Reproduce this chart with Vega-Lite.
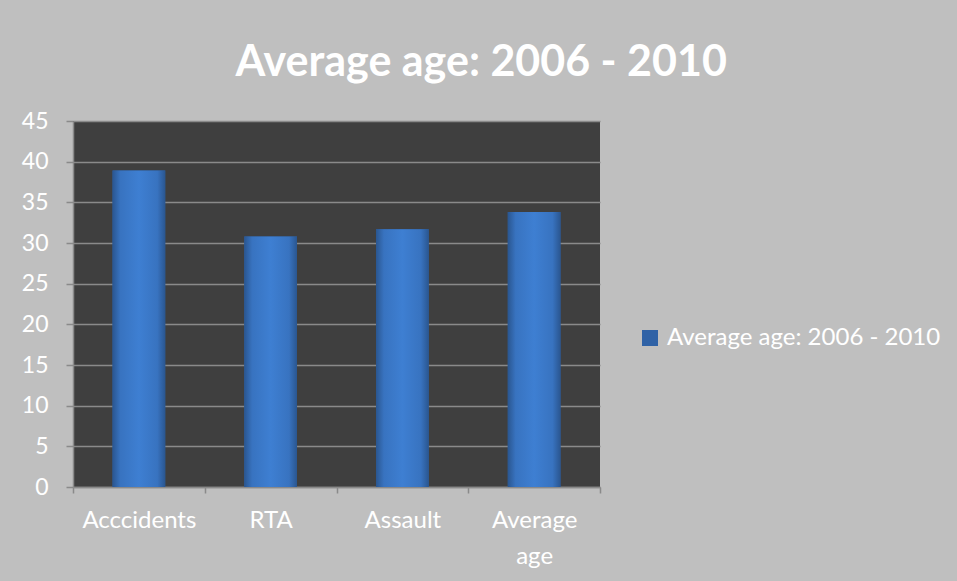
{
  "$schema": "https://vega.github.io/schema/vega-lite/v6.json",
  "width": 527,
  "height": 366,
  "autosize": {"type": "none"},
  "padding": {"left": 73, "top": 121, "right": 357, "bottom": 94},
  "background": "#bfbfbf",
  "title": {
    "text": "Average age: 2006 - 2010",
    "font": "Lato",
    "fontSize": 43,
    "fontWeight": "bold",
    "color": "white",
    "anchor": "middle",
    "frame": "bounds",
    "offset": 25
  },
  "data": {
    "values": [
      {"cause": "Acccidents", "age": 38.9, "series": "Average age: 2006 - 2010"},
      {"cause": "RTA", "age": 30.8, "series": "Average age: 2006 - 2010"},
      {"cause": "Assault", "age": 31.7, "series": "Average age: 2006 - 2010"},
      {"cause": "Average age", "age": 33.8, "series": "Average age: 2006 - 2010"}
    ]
  },
  "encoding": {
    "x": {
      "field": "cause",
      "type": "nominal",
      "sort": null,
      "scale": {"paddingInner": 0, "paddingOuter": 0},
      "axis": {
        "title": null,
        "labelAngle": 0,
        "labelFont": "Lato",
        "labelFontSize": 24,
        "labelColor": "white",
        "labelPadding": 15,
        "labelLineHeight": 36,
        "labelExpr": "datum.value == 'Average age' ? ['Average', 'age'] : datum.value",
        "tickBand": "extent",
        "tickSize": 6,
        "tickColor": "#8a8a8a",
        "tickWidth": 1.5,
        "domainColor": "#8a8a8a",
        "domainWidth": 1.5,
        "grid": false
      }
    },
    "y": {
      "field": "age",
      "type": "quantitative",
      "scale": {"domain": [0, 45], "nice": false},
      "axis": {
        "title": null,
        "values": [0, 5, 10, 15, 20, 25, 30, 35, 40, 45],
        "labelFont": "Lato",
        "labelFontSize": 23,
        "labelColor": "white",
        "labelPadding": 18,
        "tickSize": 7,
        "tickColor": "#8a8a8a",
        "tickWidth": 1.5,
        "domainColor": "#8a8a8a",
        "domainWidth": 1.5,
        "gridColor": "#8a8a8a",
        "gridWidth": 1.5
      }
    }
  },
  "layer": [
    {
      "mark": {"type": "bar", "width": {"band": 0.4}},
      "encoding": {
        "color": {
          "field": "series",
          "type": "nominal",
          "scale": {"range": ["#2f62a6"]},
          "legend": {
            "title": null,
            "orient": "none",
            "legendX": 565,
            "legendY": 205,
            "padding": 0,
            "symbolType": "square",
            "symbolSize": 256,
            "symbolStrokeWidth": 0,
            "labelFont": "Lato",
            "labelFontSize": 24,
            "labelColor": "white",
            "labelOffset": 5,
            "labelLimit": 0
          }
        }
      }
    },
    {
      "mark": {
        "type": "bar",
        "width": {"band": 0.4},
        "fill": {
          "gradient": "linear",
          "x1": 0, "y1": 0, "x2": 1, "y2": 0,
          "stops": [
            {"offset": 0, "color": "#2a5690"},
            {"offset": 0.15, "color": "#3873c0"},
            {"offset": 0.5, "color": "#3e7fd2"},
            {"offset": 0.85, "color": "#3873c0"},
            {"offset": 1, "color": "#2a5690"}
          ]
        }
      }
    }
  ],
  "config": {
    "view": {"fill": "#3f3f3f", "stroke": null}
  }
}
